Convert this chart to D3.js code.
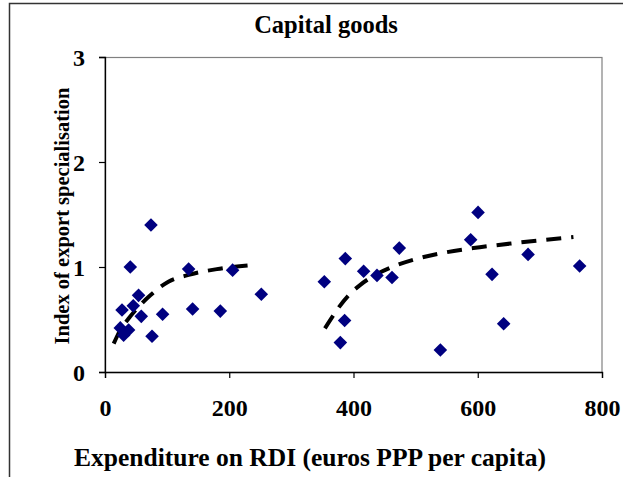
<!DOCTYPE html>
<html>
<head>
<meta charset="utf-8">
<script src="https://cdn.jsdelivr.net/npm/d3@7"></script>
<style>
  body { margin: 0; background: #fff; }
  text { font-family: "Liberation Serif", "Times New Roman", serif; font-weight: bold; fill: #000; }
</style>
</head>
<body>
<div id="chart-area"></div>
<script>
// Data
const xValues = [74, 40.7, 134.6, 205.4, 251.6, 54, 45.5, 27.4, 58.4, 92.7, 141, 185.6, 24.6, 38, 30, 75.7,
                 353, 386.8, 416.3, 437.8, 462, 473.7, 600.5, 588.6, 623, 681, 764, 385.7, 378.8, 539.8, 641.7];
const yValues = [1.40, 1.00, 0.98, 0.97, 0.74, 0.73, 0.63, 0.59, 0.53, 0.55, 0.60, 0.58, 0.42, 0.40, 0.35, 0.34,
                 0.86, 1.08, 0.96, 0.92, 0.90, 1.18, 1.52, 1.26, 0.93, 1.12, 1.01, 0.49, 0.28, 0.21, 0.46];

// trend lines, points
const trendLowX  = [14, 24.6, 38, 54, 73, 102, 134.6, 180, 239];
const trendLowY  = [0.27, 0.40, 0.51, 0.62, 0.73, 0.86, 0.925, 0.98, 1.02];
const trendHighX = [354, 392, 411, 440, 462, 497, 540, 593, 663, 754];
const trendHighY = [0.416, 0.73, 0.83, 0.94, 1.00, 1.07, 1.13, 1.18, 1.23, 1.285];

const xTicks = [0, 200, 400, 600, 800];
const yTicks = [0, 1, 2, 3];

const chartTitle = "Capital goods";
const xTitle = "Expenditure on RDI (euros PPP per capita)";
const yTitle = "Index of export specialisation";

/* SVG */
const W = 623, H = 477;
const margin = { left: 105, right: 21, top: 57, bottom: 105 };
const width  = W - margin.left - margin.right;
const height = H - margin.top - margin.bottom;

const svg = d3.select("#chart-area")
    .append("svg")
    .attr("width", W)
    .attr("height", H);

// outer frame (runs past the right and bottom edges)
svg.append("rect")
    .attr("x", 9.5).attr("y", 3.5)
    .attr("width", 700).attr("height", 600)
    .attr("fill", "none")
    .attr("stroke", "#333")
    .attr("stroke-width", 1.5);

const g = svg.append("g")
    .attr("transform", `translate(${margin.left}, ${margin.top})`);

/* Scales */
const xScale = d3.scaleLinear().domain([0, 800]).range([0, width]);
const yScale = d3.scaleLinear().domain([0, 3]).range([height, 0]);

// plot area border (grey top/right)
g.append("rect")
    .attr("x", 0).attr("y", 0.5)
    .attr("width", width).attr("height", height)
    .attr("fill", "none")
    .attr("stroke", "#808080")
    .attr("stroke-width", 1.2);

/* Axes */
const xAxis = g.append("g")
    .attr("transform", `translate(0,${height})`)
    .call(d3.axisBottom(xScale).tickValues(xTicks).tickSize(6).tickPadding(16).tickFormat(d3.format("d")));

const yAxis = g.append("g")
    .call(d3.axisLeft(yScale).tickValues(yTicks).tickSize(6).tickPadding(14).tickFormat(d3.format("d")));

[xAxis, yAxis].forEach(ax => {
    ax.select(".domain").attr("stroke", "#000").attr("stroke-width", 1.3);
    ax.selectAll(".tick line").attr("stroke", "#000").attr("stroke-width", 1.2);
    ax.selectAll(".tick text")
        .attr("font-size", 24)
        .attr("font-family", "Liberation Serif")
        .attr("font-weight", "bold")
        .attr("fill", "#000");
});
xAxis.selectAll(".tick text").attr("dy", "0.9em");
yAxis.selectAll(".tick text").attr("dy", "0.35em");

/* Trend lines */
const line = d3.line()
    .x(d => xScale(d[0]))
    .y(d => yScale(d[1]))
    .curve(d3.curveMonotoneX);

[[trendLowX, trendLowY], [trendHighX, trendHighY]].forEach(([xs, ys]) => {
    g.append("path")
        .attr("d", line(d3.zip(xs, ys)))
        .attr("fill", "none")
        .attr("stroke", "#000")
        .attr("stroke-width", 4)
        .attr("stroke-dasharray", "15,10");
});

/* Points */
const diamond = d3.symbol().type(d3.symbolSquare).size(92);
g.selectAll(".pt")
    .data(d3.zip(xValues, yValues))
    .enter().append("path")
    .attr("class", "pt")
    .attr("d", diamond)
    .attr("transform", d => `translate(${xScale(d[0])},${yScale(d[1])}) rotate(45)`)
    .attr("fill", "#000080");

/* Titles */
svg.append("text")
    .attr("x", 326).attr("y", 33)
    .attr("text-anchor", "middle")
    .attr("font-size", 24.5)
    .text(chartTitle);

svg.append("text")
    .attr("x", 310).attr("y", 466)
    .attr("text-anchor", "middle")
    .attr("font-size", 25.5)
    .text(xTitle);

svg.append("text")
    .attr("transform", "translate(69,216) rotate(-90)")
    .attr("text-anchor", "middle")
    .attr("font-size", 20.5)
    .text(yTitle);
</script>
</body>
</html>
